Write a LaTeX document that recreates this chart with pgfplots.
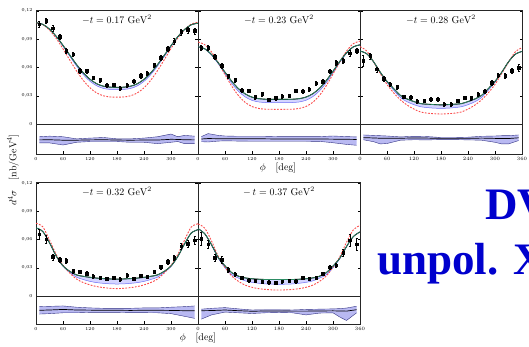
\documentclass[border=0pt]{standalone}
\usepackage{pgfplots}
\pgfplotsset{compat=1.18}
\usepackage{pgfplotstable}
\usepgfplotslibrary{fillbetween}
\usepackage{fontspec}
\newfontfamily\tnr{Liberation Serif}

\definecolor{gcol}{RGB}{45,140,100}
\definecolor{bcol}{RGB}{110,110,245}
\definecolor{bfill}{RGB}{212,212,255}
\definecolor{rcol}{RGB}{250,75,75}
\definecolor{resfill}{RGB}{185,185,242}
\definecolor{resline}{RGB}{50,50,130}
\definecolor{tblue}{RGB}{0,0,205}

% ---------- curves: phi, fit/green, blue, red ----------
\pgfplotstableread{
phi g b r
0 0.1075 0.1075 0.1075
15 0.1058 0.1057 0.1055
30 0.1007 0.1005 0.0997
45 0.0930 0.0925 0.0908
60 0.0835 0.0826 0.0798
75 0.0732 0.0720 0.0679
90 0.0632 0.0616 0.0564
105 0.0544 0.0525 0.0463
120 0.0475 0.0454 0.0384
135 0.0427 0.0405 0.0329
150 0.0401 0.0377 0.0299
165 0.0391 0.0367 0.0287
180 0.0389 0.0365 0.0285
195 0.0391 0.0367 0.0287
210 0.0401 0.0377 0.0299
225 0.0427 0.0404 0.0330
240 0.0474 0.0453 0.0384
255 0.0543 0.0524 0.0464
270 0.0630 0.0614 0.0566
285 0.0729 0.0717 0.0682
300 0.0831 0.0823 0.0801
315 0.0926 0.0921 0.0912
330 0.1003 0.1000 0.1001
345 0.1053 0.1052 0.1060
360 0.1070 0.1070 0.1080
}\cA
\pgfplotstableread{
phi g b r
0 0.0820 0.0820 0.0870
15 0.0798 0.0797 0.0842
30 0.0738 0.0733 0.0765
45 0.0650 0.0639 0.0652
60 0.0550 0.0533 0.0524
75 0.0454 0.0431 0.0402
90 0.0375 0.0347 0.0301
105 0.0319 0.0287 0.0229
120 0.0285 0.0251 0.0185
135 0.0269 0.0234 0.0165
150 0.0263 0.0228 0.0157
165 0.0262 0.0227 0.0156
180 0.0262 0.0227 0.0156
195 0.0262 0.0227 0.0156
210 0.0263 0.0228 0.0157
225 0.0269 0.0234 0.0165
240 0.0286 0.0252 0.0186
255 0.0321 0.0290 0.0230
270 0.0379 0.0351 0.0303
285 0.0461 0.0438 0.0406
300 0.0560 0.0543 0.0530
315 0.0664 0.0653 0.0659
330 0.0755 0.0750 0.0773
345 0.0818 0.0816 0.0852
360 0.0840 0.0840 0.0880
}\cB
\pgfplotstableread{
phi g b r
0 0.0775 0.0775 0.0821
15 0.0745 0.0745 0.0775
30 0.0662 0.0660 0.0660
45 0.0550 0.0545 0.0537
60 0.0452 0.0443 0.0420
75 0.0375 0.0358 0.0330
90 0.0303 0.0280 0.0255
105 0.0265 0.0235 0.0200
120 0.0238 0.0205 0.0158
135 0.0216 0.0183 0.0127
150 0.0210 0.0174 0.0115
165 0.0206 0.0168 0.0109
180 0.0203 0.0166 0.0106
195 0.0206 0.0168 0.0109
210 0.0210 0.0174 0.0115
225 0.0216 0.0183 0.0127
240 0.0238 0.0205 0.0158
255 0.0265 0.0235 0.0200
270 0.0303 0.0280 0.0255
285 0.0375 0.0358 0.0330
300 0.0452 0.0443 0.0420
315 0.0550 0.0545 0.0537
330 0.0660 0.0658 0.0655
345 0.0740 0.0740 0.0765
360 0.0770 0.0770 0.0810
}\cC
\pgfplotstableread{
phi g b r
0 0.0723 0.0723 0.0772
15 0.0685 0.0685 0.0735
30 0.0565 0.0565 0.0595
45 0.0424 0.0422 0.0440
60 0.0320 0.0315 0.0325
75 0.0262 0.0250 0.0245
90 0.0224 0.0200 0.0180
105 0.0209 0.0175 0.0143
120 0.0198 0.0155 0.0118
135 0.0190 0.0142 0.0100
150 0.0185 0.0134 0.0089
165 0.0181 0.0129 0.0082
180 0.0179 0.0127 0.0078
195 0.0181 0.0129 0.0082
210 0.0185 0.0134 0.0089
225 0.0190 0.0142 0.0100
240 0.0198 0.0155 0.0118
255 0.0209 0.0175 0.0143
270 0.0224 0.0200 0.0180
285 0.0262 0.0250 0.0245
300 0.0318 0.0313 0.0325
315 0.0418 0.0416 0.0440
330 0.0552 0.0552 0.0592
345 0.0668 0.0668 0.0732
360 0.0704 0.0704 0.0767
}\cD
\pgfplotstableread{
phi g b r
0 0.0715 0.0715 0.0765
15 0.0660 0.0660 0.0720
30 0.0545 0.0540 0.0585
45 0.0408 0.0400 0.0420
60 0.0320 0.0300 0.0305
75 0.0248 0.0225 0.0212
90 0.0210 0.0190 0.0155
105 0.0192 0.0160 0.0115
120 0.0183 0.0145 0.0092
135 0.0178 0.0135 0.0078
150 0.0175 0.0128 0.0070
165 0.0175 0.0125 0.0065
180 0.0175 0.0124 0.0063
195 0.0175 0.0125 0.0065
210 0.0175 0.0128 0.0070
225 0.0178 0.0135 0.0078
240 0.0183 0.0145 0.0092
255 0.0192 0.0160 0.0115
270 0.0210 0.0190 0.0155
285 0.0248 0.0225 0.0212
300 0.0318 0.0300 0.0305
315 0.0400 0.0395 0.0415
330 0.0525 0.0522 0.0570
345 0.0630 0.0630 0.0700
360 0.0680 0.0680 0.0750
}\cE

% ---------- data: phi, value, error ----------
\pgfplotstableread{
phi v e
7.5 0.1058 0.0030
22.5 0.1097 0.0030
37.5 0.1016 0.0028
52.5 0.0927 0.0025
67.5 0.0775 0.0025
82.5 0.0740 0.0025
97.5 0.0566 0.0022
112.5 0.0563 0.0022
127.5 0.0492 0.0020
142.5 0.0467 0.0020
157.5 0.0411 0.0020
172.5 0.0418 0.0020
187.5 0.0382 0.0020
202.5 0.0411 0.0020
217.5 0.0453 0.0020
232.5 0.0513 0.0022
247.5 0.0538 0.0022
262.5 0.0627 0.0022
277.5 0.0704 0.0025
292.5 0.0800 0.0025
307.5 0.0878 0.0028
322.5 0.0977 0.0030
337.5 0.0998 0.0030
352.5 0.0988 0.0030
}\dA
\pgfplotstableread{
phi v e
7.5 0.0811 0.0028
22.5 0.0811 0.0028
37.5 0.0715 0.0025
52.5 0.0616 0.0025
67.5 0.0510 0.0022
82.5 0.0467 0.0022
97.5 0.0358 0.0020
112.5 0.0354 0.0020
127.5 0.0287 0.0020
142.5 0.0319 0.0020
157.5 0.0258 0.0020
172.5 0.0276 0.0020
187.5 0.0297 0.0020
202.5 0.0301 0.0020
217.5 0.0354 0.0020
232.5 0.0350 0.0020
247.5 0.0368 0.0022
262.5 0.0435 0.0022
277.5 0.0450 0.0022
292.5 0.0559 0.0025
307.5 0.0651 0.0025
322.5 0.0673 0.0025
337.5 0.0750 0.0028
352.5 0.0779 0.0030
}\dB
\pgfplotstableread{
phi v e
7.5 0.0669 0.0060
22.5 0.0722 0.0030
37.5 0.0580 0.0025
52.5 0.0481 0.0022
67.5 0.0421 0.0022
82.5 0.0393 0.0020
97.5 0.0290 0.0020
112.5 0.0283 0.0020
127.5 0.0241 0.0020
142.5 0.0248 0.0020
157.5 0.0262 0.0020
172.5 0.0262 0.0020
187.5 0.0209 0.0020
202.5 0.0209 0.0020
217.5 0.0248 0.0020
232.5 0.0280 0.0020
247.5 0.0276 0.0020
262.5 0.0315 0.0022
277.5 0.0350 0.0022
292.5 0.0439 0.0025
307.5 0.0517 0.0025
322.5 0.0513 0.0025
337.5 0.0566 0.0030
352.5 0.0595 0.0035
}\dC
\pgfplotstableread{
phi v e
7.5 0.0654 0.0050
22.5 0.0605 0.0040
37.5 0.0415 0.0030
52.5 0.0387 0.0025
67.5 0.0373 0.0025
82.5 0.0267 0.0020
97.5 0.0257 0.0020
112.5 0.0239 0.0020
127.5 0.0211 0.0018
142.5 0.0197 0.0018
157.5 0.0186 0.0018
172.5 0.0194 0.0018
187.5 0.0179 0.0018
202.5 0.0222 0.0018
217.5 0.0186 0.0018
232.5 0.0215 0.0018
247.5 0.0204 0.0018
262.5 0.0257 0.0020
277.5 0.0310 0.0022
292.5 0.0362 0.0025
307.5 0.0405 0.0025
322.5 0.0528 0.0035
337.5 0.0556 0.0040
352.5 0.0591 0.0045
}\dD
\pgfplotstableread{
phi v e
7.5 0.0609 0.0070
22.5 0.0549 0.0045
37.5 0.0408 0.0035
52.5 0.0387 0.0035
67.5 0.0281 0.0025
82.5 0.0232 0.0020
97.5 0.0197 0.0018
112.5 0.0169 0.0018
127.5 0.0165 0.0018
142.5 0.0151 0.0018
157.5 0.0148 0.0018
172.5 0.0141 0.0018
187.5 0.0155 0.0018
202.5 0.0165 0.0018
217.5 0.0158 0.0018
232.5 0.0194 0.0018
247.5 0.0186 0.0018
262.5 0.0194 0.0018
277.5 0.0236 0.0020
292.5 0.0306 0.0025
307.5 0.0327 0.0025
322.5 0.0461 0.0035
337.5 0.0591 0.0060
352.5 0.0549 0.0065
}\dE

% ---------- residual bands: phi, hi, lo, mid ----------
\pgfplotstableread{
phi hi lo mid
7.5 0.15 -0.26 -0.06
30 0.19 -0.26 -0.05
60 0.15 -0.40 -0.08
90 0.01 -0.22 -0.08
120 0.06 -0.17 -0.06
150 0.10 -0.17 -0.05
180 0.01 -0.17 -0.07
210 0.01 -0.22 -0.08
240 0.06 -0.22 -0.07
270 0.15 -0.31 -0.07
300 0.33 -0.22 -0.02
315 0.15 -0.17 -0.03
330 0.24 -0.31 -0.05
352.5 0.19 -0.31 -0.06
}\rA
\pgfplotstableread{
phi hi lo mid
7.5 0.16 -0.18 0.00
22.5 0.36 -0.20 0.03
45 0.24 -0.14 0.02
60 0.20 -0.12 0.02
90 0.18 -0.14 0.01
120 0.18 -0.15 0.01
150 0.18 -0.15 0.01
180 0.16 -0.15 0.00
210 0.16 -0.15 0.00
240 0.16 -0.15 0.00
270 0.16 -0.16 0.00
300 0.20 -0.25 -0.01
330 0.16 -0.36 -0.02
352.5 0.14 -0.42 -0.03
}\rB
\pgfplotstableread{
phi hi lo mid
7.5 0.27 -0.05 0.09
30 0.24 -0.18 0.07
45 0.22 -0.33 0.05
60 0.20 -0.30 0.05
90 0.14 -0.08 0.05
120 0.18 -0.05 0.07
150 0.16 -0.06 0.06
180 0.10 -0.04 0.04
210 0.10 -0.04 0.04
240 0.12 -0.06 0.04
270 0.18 -0.08 0.06
300 0.20 -0.22 0.04
315 0.22 -0.33 0.03
330 0.22 -0.33 0.03
352.5 0.27 -0.10 0.08
}\rC
\pgfplotstableread{
phi hi lo mid
7.5 0.24 -0.29 -0.02
30 0.26 -0.26 0.00
60 0.29 -0.20 0.04
90 0.20 -0.20 0.00
120 0.15 -0.17 -0.01
150 0.12 -0.17 -0.02
180 0.12 -0.17 -0.02
210 0.12 -0.19 -0.03
240 0.15 -0.19 -0.02
270 0.15 -0.20 -0.02
300 0.20 -0.26 -0.03
330 0.24 -0.45 -0.05
352.5 0.29 -0.60 -0.05
}\rD
\pgfplotstableread{
phi hi lo mid
7.5 0.06 -0.65 -0.05
30 0.12 -0.35 -0.04
60 0.17 -0.15 0.00
90 0.08 -0.20 -0.05
120 0.00 -0.25 -0.09
150 0.02 -0.20 -0.07
180 0.02 -0.18 -0.07
210 0.00 -0.20 -0.08
240 0.04 -0.35 -0.08
270 0.06 -0.22 -0.07
300 0.08 -0.20 -0.06
315 0.10 -0.50 -0.07
330 0.14 -0.75 -0.08
352.5 0.27 -0.20 0.02
}\rE

\pgfplotsset{
  panel/.style={scale only axis, anchor=south west, width=162bp, height=114bp,
    xmin=0, xmax=360, ymin=0, ymax=0.121,
    xtick=\empty, ytick={0,0.03,0.06,0.09,0.12}, yticklabels={},
    tick align=inside, major tick length=2.5bp,
    tick style={black, line width=0.4pt},
    axis line style={line width=0.5pt, black!85},
    tick label style={font=\fontsize{4.5}{5}\selectfont}},
  leftpanel/.style={yticklabels={0,{0,03},{0,06},{0,09},{0,12}}},
  res/.style={scale only axis, anchor=south west, width=162bp,
    xmin=0, xmax=360, ymin=-1, ymax=1,
    ytick=\empty, xtick={0,60,120,180,240,300,360}, xtick pos=left,
    tick align=inside, major tick length=2.5bp,
    tick style={black, line width=0.4pt},
    axis line style={line width=0.5pt, black!85},
    tick label style={font=\fontsize{4.5}{5}\selectfont}},
  noend/.style={xticklabels={0,60,120,180,240,300,{}}},
}
\tikzset{ttl/.style={font=\fontsize{10}{12}\selectfont, anchor=north, yshift=-1bp}}

\newcommand{\curves}[1]{%
  \addplot[name path=pg, draw=none, smooth, forget plot] table[x=phi,y=g]{#1};
  \addplot[name path=pb, draw=none, smooth, forget plot] table[x=phi,y=b]{#1};
  \addplot[bfill, forget plot] fill between[of=pg and pb];
  \addplot[bcol, line width=0.5pt, smooth] table[x=phi,y=b]{#1};
  \addplot[rcol, line width=0.9pt, dash pattern=on 1.8pt off 1.4pt, smooth] table[x=phi,y=r]{#1};
  \addplot[black, line width=0.9pt, smooth] table[x=phi,y=g]{#1};
  \addplot[gcol, line width=0.65pt, smooth] table[x=phi,y=g]{#1};
}
\newcommand{\points}[1]{%
  \addplot[only marks, mark=square*, mark size=1.3bp, black,
    error bars/.cd, y dir=both, y explicit,
    error bar style={line width=0.5pt, black},
    error mark options={rotate=90, mark size=1bp, black, line width=0.4pt}]
    table[x=phi, y=v, y error=e]{#1};
}
\newcommand{\resband}[1]{%
  \addplot[name path=rh, draw=none, forget plot] table[x=phi,y=hi]{#1};
  \addplot[name path=rl, draw=none, forget plot] table[x=phi,y=lo]{#1};
  \addplot[resfill, forget plot] fill between[of=rh and rl];
  \addplot[resline, line width=0.4pt] table[x=phi,y=hi]{#1};
  \addplot[resline, line width=0.4pt] table[x=phi,y=lo]{#1};
  \addplot[black, line width=0.7pt] table[x=phi,y=mid]{#1};
}

\begin{document}
\begin{tikzpicture}

% ===== top row =====
\begin{axis}[panel, leftpanel, at={(36bp,223bp)}]
  \curves{\cA}\points{\dA}
  \node[ttl] at (rel axis cs:0.5,1) {$-t = 0.17\ \mathrm{GeV}^2$};
\end{axis}
\begin{axis}[res, noend, height=30bp, at={(36bp,193bp)}]
  \resband{\rA}
\end{axis}

\begin{axis}[panel, at={(198bp,223bp)}]
  \curves{\cB}\points{\dB}
  \node[ttl] at (rel axis cs:0.5,1) {$-t = 0.23\ \mathrm{GeV}^2$};
\end{axis}
\begin{axis}[res, noend, height=30bp, at={(198bp,193bp)}]
  \resband{\rB}
\end{axis}

\begin{axis}[panel, at={(360bp,223bp)}]
  \curves{\cC}\points{\dC}
  \node[ttl] at (rel axis cs:0.5,1) {$-t = 0.28\ \mathrm{GeV}^2$};
\end{axis}
\begin{axis}[res, height=30bp, at={(360bp,193bp)}]
  \resband{\rC}
\end{axis}

% ===== bottom row =====
\begin{axis}[panel, leftpanel, at={(36bp,51bp)}]
  \curves{\cD}\points{\dD}
  \node[ttl] at (rel axis cs:0.5,1) {$-t = 0.32\ \mathrm{GeV}^2$};
\end{axis}
\begin{axis}[res, noend, height=28bp, at={(36bp,23bp)}]
  \resband{\rD}
\end{axis}

\begin{axis}[panel, at={(198bp,51bp)}]
  \curves{\cE}\points{\dE}
  \node[ttl] at (rel axis cs:0.5,1) {$-\,t = 0.37\ \mathrm{GeV}^2$};
\end{axis}
\begin{axis}[res, height=28bp, at={(198bp,23bp)}]
  \resband{\rE}
\end{axis}

% ===== labels =====
\node[font=\fontsize{10}{12}\selectfont] at (278bp,179bp) {$\phi\quad[\mathrm{deg}]$};
\node[font=\fontsize{10}{12}\selectfont] at (198bp,9bp) {$\phi\quad[\mathrm{deg}]$};
\node[rotate=90, font=\fontsize{10}{12}\selectfont] at (13bp,177bp) {$d^4\sigma\quad[\mathrm{nb}/\mathrm{GeV}^4]$};

\node[anchor=base west, inner sep=0pt, text=tblue, font=\tnr\bfseries\fontsize{45bp}{50bp}\selectfont] at (485bp,127bp) {DV};
\node[anchor=base west, inner sep=0pt, text=tblue, font=\tnr\bfseries\fontsize{45bp}{50bp}\selectfont] at (377bp,72bp) {unpol. X};

\pgfresetboundingbox
\path[use as bounding box] (0,0) rectangle (529bp,347bp);
\end{tikzpicture}
\end{document}
